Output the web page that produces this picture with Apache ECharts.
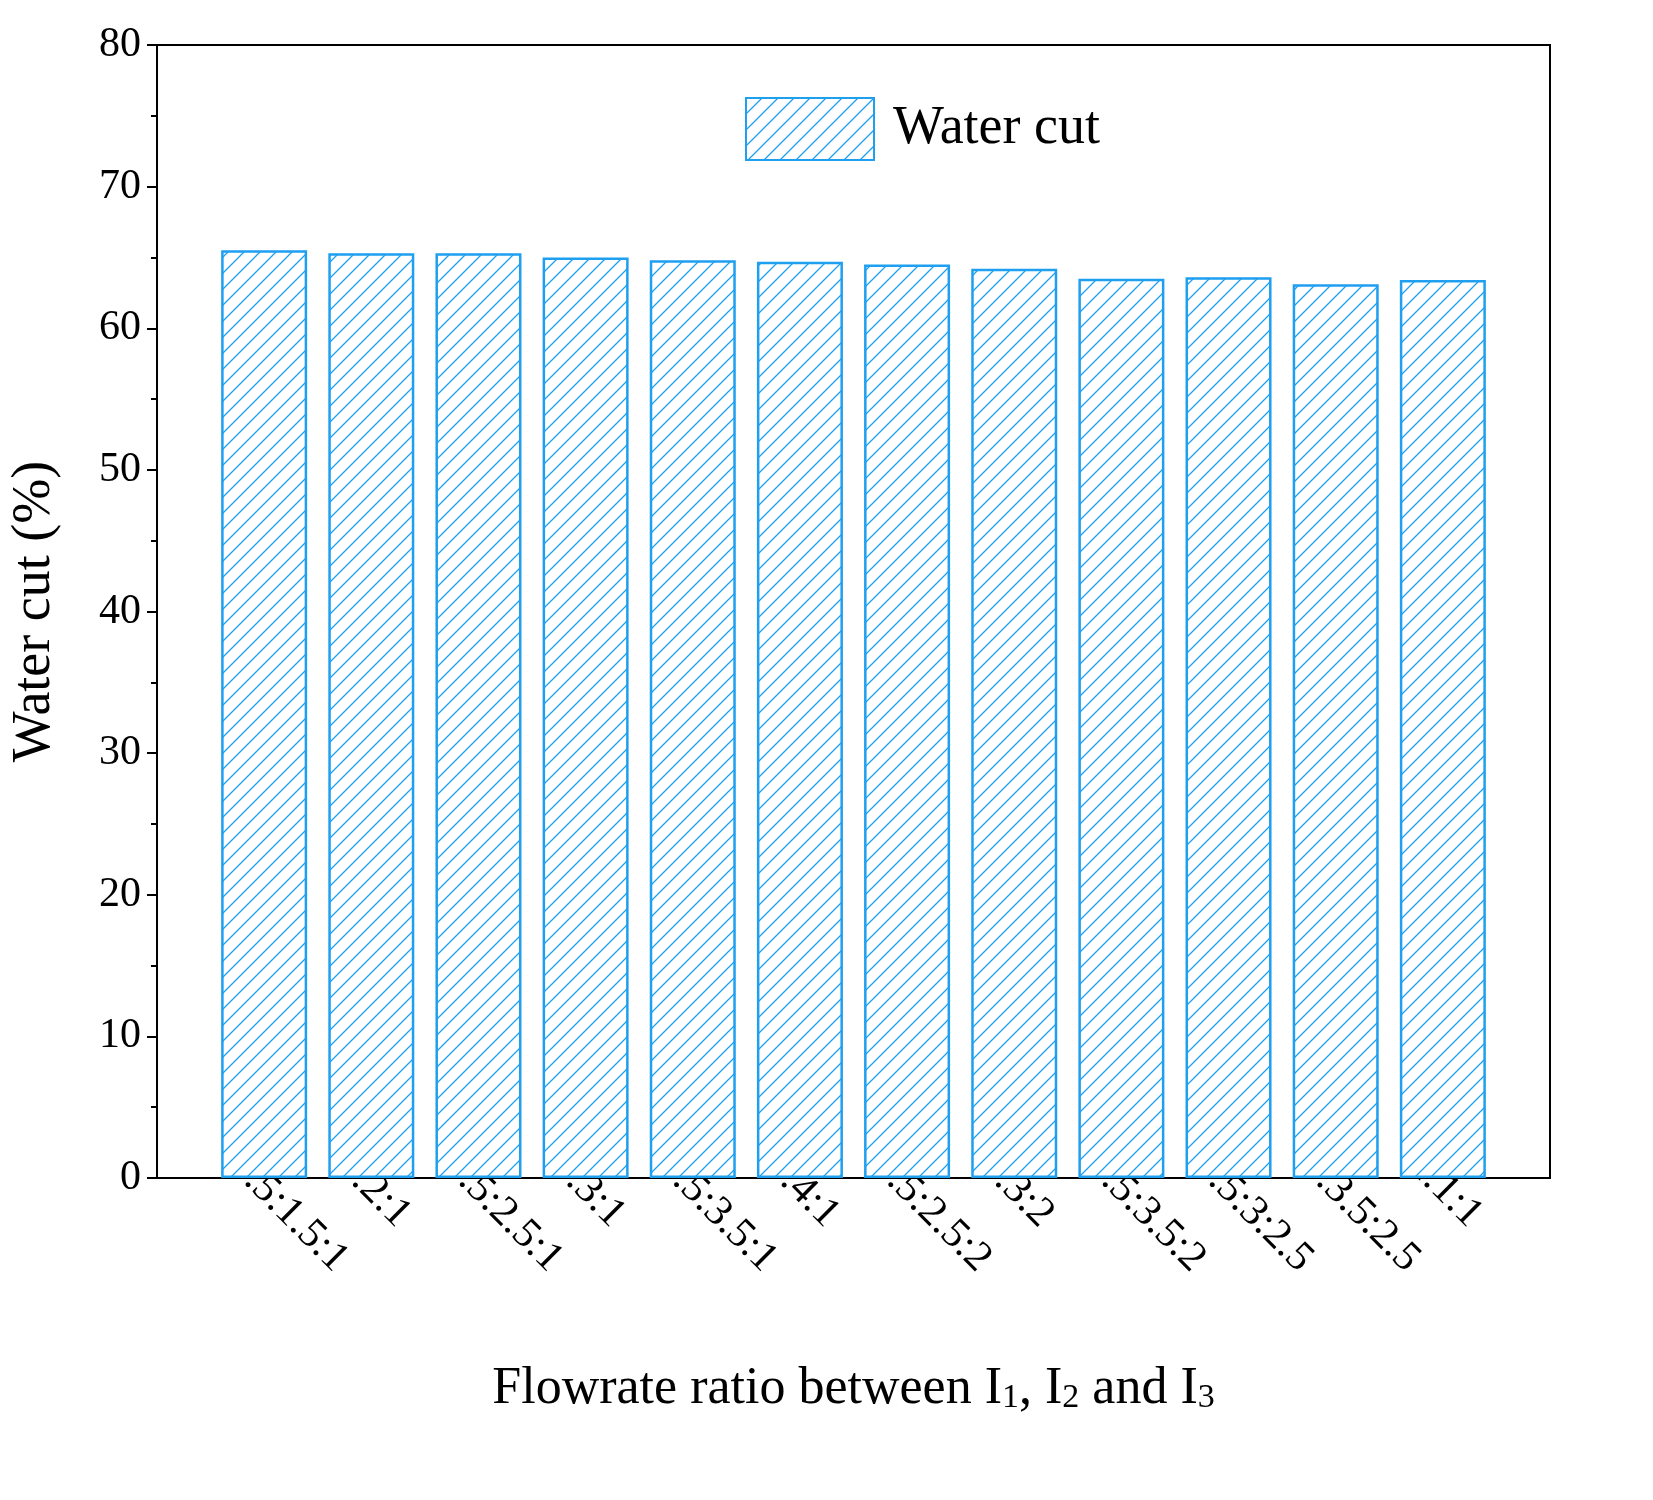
<!DOCTYPE html>
<html><head><meta charset="utf-8">
<script src="https://cdn.jsdelivr.net/npm/echarts@6/dist/echarts.min.js"></script>
<style>html,body{margin:0;background:#fff}#c{width:1653px;height:1500px}</style>
</head><body><div id="c"></div>
<script>
const categories = ['7.5:1.5:1','7:2:1','6.5:2.5:1','6:3:1','5.5:3.5:1','5:4:1','5.5:2.5:2','5:3:2','4.5:3.5:2','4.5:3:2.5','4:3.5:2.5','1:1:1'];
const waterCut = [65.5,65.3,65.3,65.0,64.8,64.7,64.5,64.2,63.5,63.6,63.1,63.4];
const yTicks = [0,10,20,30,40,50,60,70,80];

const blue = '#1E9FF0';
const pc = document.createElement('canvas');
pc.width = 16; pc.height = 16;
const g = pc.getContext('2d');
g.fillStyle = '#fff'; g.fillRect(0,0,16,16);
g.strokeStyle = blue; g.lineWidth = 1.3;
g.beginPath();
g.moveTo(0,16); g.lineTo(16,0);
g.moveTo(-8,8); g.lineTo(8,-8);
g.moveTo(8,24); g.lineTo(24,8);
g.stroke();
const hatch = {image: pc, repeat: 'repeat'};

const xData = [''].concat(categories, ['']);
const yData = [null].concat(waterCut, [null]);
const font = 'Liberation Serif';
const chart = echarts.init(document.getElementById('c'));
chart.setOption({
  animation: false,
  grid: {left: 152, right: 103, top: 45, bottom: 322, show: true, borderColor: '#000', borderWidth: 2},
  legend: {show: true, top: 92, left: 740, itemWidth: 128, itemHeight: 62, itemGap: 18,
    icon: 'rect',
    textStyle: {fontFamily: font, fontSize: 54, color: '#000', padding: [0,0,0,14]}, data: ['Water cut']},
  xAxis: {type: 'category', data: xData, boundaryGap: false,
    axisLine: {lineStyle: {color: '#000', width: 2}},
    axisTick: {show: false},
    axisLabel: {rotate: -45, interval: 0, fontFamily: font, fontSize: 42, color: '#000', margin: 10,
      padding: [0,0,0,-40]},
    name: '{t|Flowrate ratio between I}{s|1}{t|, I}{s|2}{t| and I}{s|3}', nameLocation: 'middle', nameGap: 185,
    nameTextStyle: {rich: {t: {fontFamily: font, fontSize: 52, color: '#000'},
      s: {fontFamily: font, fontSize: 34, color: '#000', verticalAlign: 'bottom', padding: [18,0,0,0]}}}},
  yAxis: {type: 'value', min: 0, max: 80, interval: 10,
    axisLine: {show: true, lineStyle: {color: '#000', width: 2}},
    axisTick: {show: true, length: 10, lineStyle: {width: 2}},
    minorTick: {show: true, splitNumber: 2, length: 6, lineStyle: {color: '#000', width: 2}},
    splitLine: {show: false},
    axisLabel: {fontFamily: font, fontSize: 42, color: '#000', margin: 16,
      formatter: v => yTicks.includes(v) ? String(v) : ''},
    name: 'Water cut (%)', nameLocation: 'middle', nameGap: 95,
    nameTextStyle: {fontFamily: font, fontSize: 54, color: '#000'}},
  series: [{name: 'Water cut', type: 'bar', data: yData, barWidth: 86,
    itemStyle: {color: hatch, borderColor: blue, borderWidth: 2.5}}]
});
</script></body></html>
